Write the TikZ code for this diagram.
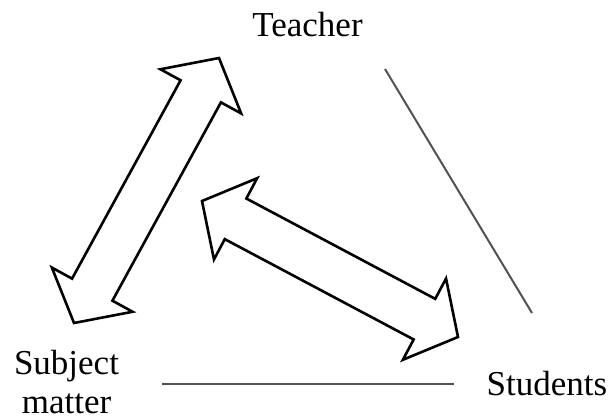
\documentclass[tikz,border=0pt]{standalone}
\usepackage{fontspec}
\setmainfont{Liberation Serif}
\usetikzlibrary{calc}
\tikzset{
  lbl/.style={inner sep=0pt, font=\fontsize{35}{39}\selectfont, align=center},
  fatarrow/.style={draw=black, line width=2.6pt, line join=miter, fill=white},
  thinline/.style={draw=black!68, line width=2pt}
}
\newcommand{\fatdbl}[2]{%
  \path ($(#1)!38pt!(#2)$) coordinate (hA) ($(#2)!38pt!(#1)$) coordinate (hB);
  \draw[fatarrow] (#1)
    -- ($(hA)!46pt!90:(#2)$) -- ($(hA)!23pt!90:(#2)$)
    -- ($(hB)!23pt!-90:(#1)$) -- ($(hB)!46pt!-90:(#1)$)
    -- (#2)
    -- ($(hB)!46pt!90:(#1)$) -- ($(hB)!23pt!90:(#1)$)
    -- ($(hA)!23pt!-90:(#2)$) -- ($(hA)!46pt!-90:(#2)$)
    -- cycle;}
\begin{document}
\begin{tikzpicture}[x=1pt,y=-1pt]
\useasboundingbox (0,0) rectangle (610,418);
\node[lbl, anchor=base] (teacher) at (307.5,36.7) {Teacher};
\node[lbl, anchor=north] (subject) at (66.5,350) {Subject\\matter};
\node[lbl, anchor=base] (students) at (547,395) {Students};
% arrow tips
\coordinate (a1) at (219,58);
\coordinate (a2) at (74,323);
\coordinate (b1) at (202,201);
\coordinate (b2) at (458,337);
\fatdbl{a1}{a2}
\fatdbl{b1}{b2}
% plain lines
\coordinate (t1) at (385,69);
\coordinate (t2) at (532,313);
\coordinate (s1) at (162,384);
\coordinate (s2) at (454,384);
\draw[thinline] (t1) -- (t2);
\draw[thinline] (s1) -- (s2);
\end{tikzpicture}
\end{document}
